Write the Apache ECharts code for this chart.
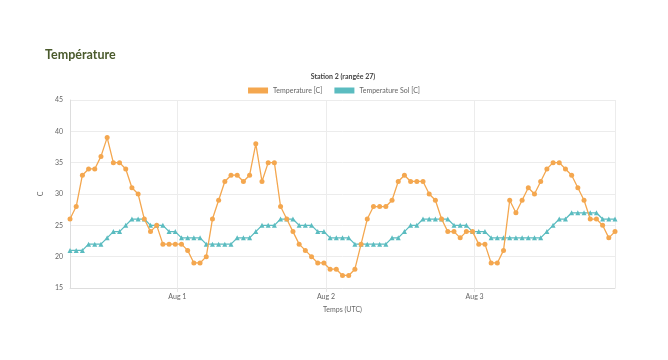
<!DOCTYPE html>
<html>
<head>
<meta charset="utf-8">
<script src="https://cdn.jsdelivr.net/npm/echarts@6/dist/echarts.min.js"></script>
<style>
html,body{margin:0;padding:0;background:#fff;}
#c{width:668px;height:360px;}
</style>
</head>
<body>
<div id="c"></div>
<script>
// Hourly readings starting Jul 31 ~06:40
const startTime = [2023, 6, 31, 6, 40];
const airTemp = [26,28,33,34,34,36,39,35,35,34,31,30,26,24,25,22,22,22,22,21,19,19,20,26,29,32,33,33,32,33,38,32,35,35,28,26,24,22,21,20,19,19,18,18,17,17,18,22,26,28,28,28,29,32,33,32,32,32,30,29,26,24,24,23,24,24,22,22,19,19,21,29,27,29,31,30,32,34,35,35,34,33,31,29,26,26,25,23,24];
const soilTemp = [21,21,21,22,22,22,23,24,24,25,26,26,26,25,25,25,24,24,23,23,23,23,22,22,22,22,22,23,23,23,24,25,25,25,26,26,26,25,25,25,24,24,23,23,23,23,22,22,22,22,22,22,23,23,24,25,25,26,26,26,26,26,25,25,25,24,24,24,23,23,23,23,23,23,23,23,23,24,25,26,26,27,27,27,27,27,26,26,26];
const seriesNames = ['Temperature [C]', 'Temperature Sol [C]'];
const monthNames = ['Jan','Feb','Mar','Apr','May','Jun','Jul','Aug','Sep','Oct','Nov','Dec'];
const yTicks = {min: 15, max: 45, interval: 5};

const t0 = new Date(startTime[0], startTime[1], startTime[2], startTime[3], startTime[4]).getTime();
const HOUR = 3600 * 1000;
const times = airTemp.map((_, i) => t0 + i * HOUR);
const airData = airTemp.map((v, i) => [times[i], v]);
const soilData = soilTemp.map((v, i) => [times[i], v]);

const chart = echarts.init(document.getElementById('c'), null, {renderer: 'canvas'});
const font = 'Lato, "Open Sans", sans-serif';
chart.setOption({
  animation: false,
  backgroundColor: '#fff',
  title: [
    {text: 'Température', left: 40, top: 43, padding: 5,
     textStyle: {fontFamily: font, fontSize: 12.5, fontWeight: 'bold', color: '#4a5a2c'}},
    {text: 'Station 2 (rangée 27)', left: 338, top: 68, textAlign: 'center',
     textStyle: {fontFamily: font, fontSize: 7, fontWeight: 'bold', color: '#444'}}
  ],
  legend: {
    top: 82, left: 'center',
    itemWidth: 20, itemHeight: 6, itemGap: 12,
    icon: 'rect',
    textStyle: {fontFamily: font, fontSize: 7, color: '#666'},
    data: seriesNames
  },
  grid: {left: 70, right: 53, top: 100, bottom: 72},
  xAxis: {
    type: 'time',
    min: times[0], max: times[times.length - 1],
    minInterval: 24 * HOUR, maxInterval: 24 * HOUR,
    name: 'Temps (UTC)', nameLocation: 'middle', nameGap: 18,
    nameTextStyle: {fontFamily: font, fontSize: 7, color: '#666'},
    axisLine: {lineStyle: {color: '#ddd'}},
    axisTick: {show: true, length: 4, lineStyle: {color: '#e6e6e6'}},
    axisLabel: {fontFamily: font, fontSize: 7, color: '#666', margin: 5,
      showMinLabel: false, showMaxLabel: false,
      formatter: function (v) { const d = new Date(v); return monthNames[d.getMonth()] + ' ' + d.getDate(); }},
    splitLine: {show: true, lineStyle: {color: '#ececec', width: 1}}
  },
  yAxis: {
    type: 'value', min: yTicks.min, max: yTicks.max, interval: yTicks.interval,
    name: 'C', nameLocation: 'middle', nameGap: 19,
    nameTextStyle: {fontFamily: font, fontSize: 7, color: '#666'},
    axisLine: {show: true, lineStyle: {color: '#ddd'}},
    axisTick: {show: false},
    axisLabel: {fontFamily: font, fontSize: 7, color: '#666', margin: 7},
    splitLine: {show: true, lineStyle: {color: '#ececec', width: 1}}
  },
  series: [
    {name: seriesNames[0], type: 'line', data: airData,
     color: '#f4a74f', symbol: 'circle', symbolSize: 5, showAllSymbol: true,
     lineStyle: {width: 1.3, color: '#f4a74f'},
     itemStyle: {color: '#f4a74f'}, z: 3},
    {name: seriesNames[1], type: 'line', data: soilData,
     color: '#5bbcc0', symbol: 'triangle', symbolSize: 5, showAllSymbol: true,
     lineStyle: {width: 1.3, color: '#5bbcc0'},
     itemStyle: {color: '#5bbcc0'}, z: 2}
  ]
});
</script>
</body>
</html>
